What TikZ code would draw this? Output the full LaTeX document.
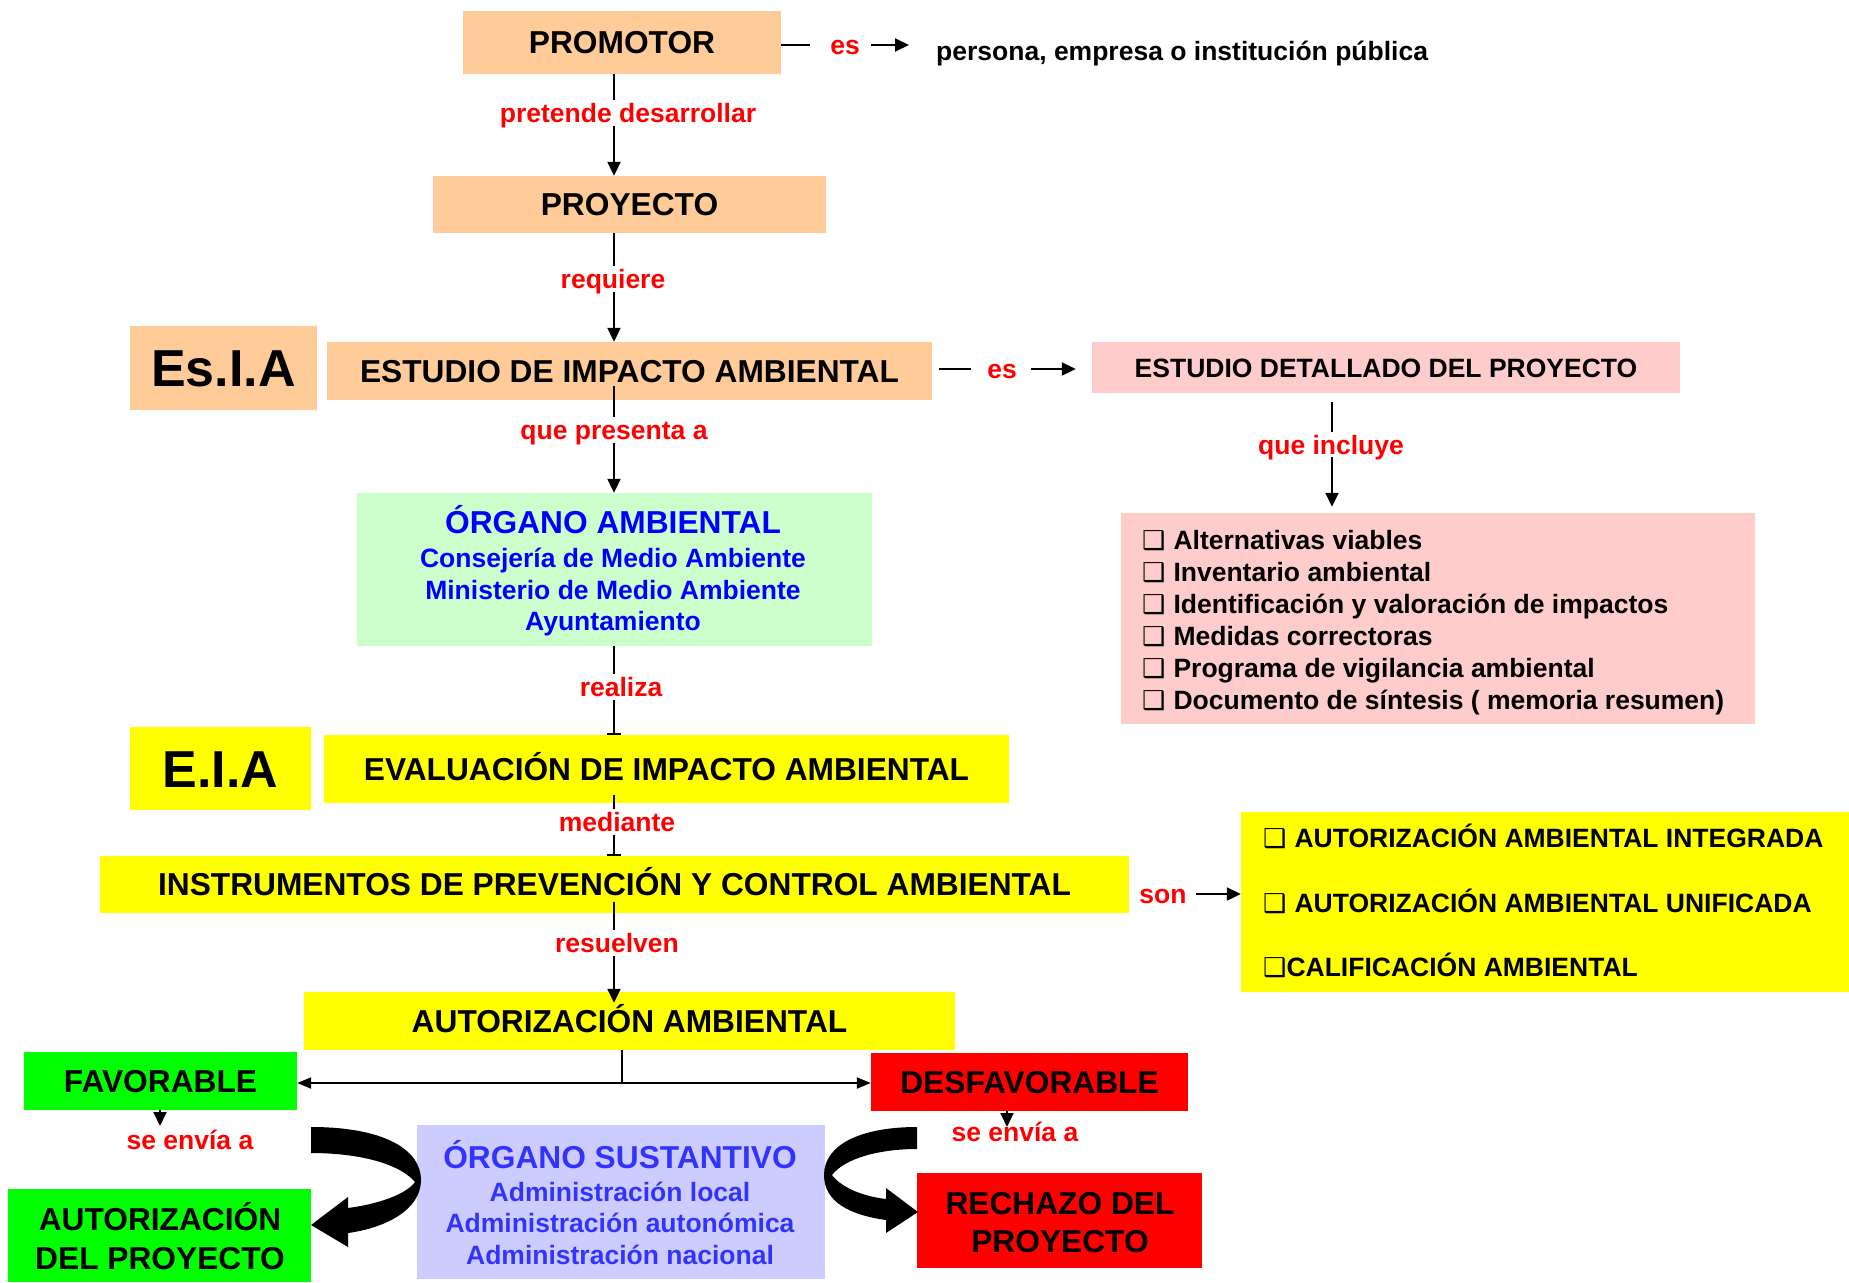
\documentclass[tikz,border=0pt]{standalone}
\usepackage{fontspec}
\setmainfont{Liberation Sans}
\newfontfamily\dejavu{DejaVu Sans}
\usetikzlibrary{arrows.meta}
\definecolor{orangebox}{HTML}{FFCC99}
\definecolor{pinkbox}{HTML}{FFCCCC}
\definecolor{mint}{HTML}{CCFFCC}
\definecolor{yel}{HTML}{FFFF00}
\definecolor{grn}{HTML}{00FF00}
\definecolor{rd}{HTML}{FF0000}
\definecolor{lav}{HTML}{CCCCFF}
\definecolor{blu}{HTML}{0000FF}
\definecolor{blutwo}{HTML}{3333FF}
\newcommand{\cbx}{{\dejavu\bfseries\fontsize{26}{26}\selectfont ❑}}
\begin{document}
\begin{tikzpicture}[x=1pt,y=-1pt,
  ftbig/.style={font=\fontsize{31.7}{36}\selectfont\bfseries},
  ftsmall/.style={font=\fontsize{26.5}{32}\selectfont\bfseries},
  fthuge/.style={font=\fontsize{52}{60}\selectfont\bfseries},
  bx/.style={inner sep=0pt, text height=22.7pt, text depth=0pt, align=center},
  lbl/.style={ftsmall, text=rd, inner xsep=3pt, inner ysep=3pt, text height=19pt, text depth=0pt},
  conn/.style={line width=2pt},
  arr/.style={conn, -{Triangle[length=14pt,width=13pt]}},
  tick/.style={conn, -{Bar[width=14pt]}},
  linetxt/.style={inner sep=0pt, anchor=base},
  itemtxt/.style={ftsmall, inner sep=0pt, anchor=base west},
]
\useasboundingbox (0,0) rectangle (1849,1282);
\fill[white] (0,0) rectangle (1849,1282);

% ---- top chain
\node[bx, ftbig, fill=orangebox, minimum width=318pt, minimum height=63pt] (promotor) at (622,42.5) {PROMOTOR};
\node[lbl] (es1) at (845,45) {es};
\node[ftsmall, anchor=base west, inner sep=0pt] (persona) at (936,60) {persona, empresa o institución pública};
\node[lbl] (l1) at (628,113) {pretende desarrollar};
\node[bx, ftbig, fill=orangebox, minimum width=393pt, minimum height=57pt] (proyecto) at (629.5,204.5) {PROYECTO};
\node[lbl] (l2) at (613,279) {requiere};
\node[bx, fthuge, fill=orangebox, minimum width=187pt, minimum height=84pt, text height=37pt] (esia) at (223.5,368) {Es.I.A};
\node[bx, ftbig, fill=orangebox, minimum width=605pt, minimum height=58pt] (estudio) at (629.5,371) {ESTUDIO DE IMPACTO AMBIENTAL};
\node[lbl] (es2) at (1002,369) {es};
\node[bx, ftsmall, fill=pinkbox, minimum width=588pt, minimum height=51pt, text height=19pt] (detallado) at (1386,367.5) {ESTUDIO DETALLADO DEL PROYECTO};
\node[lbl] (l3) at (1331,444.5) {que incluye};
\node[fill=pinkbox, inner sep=0pt, minimum width=634pt, minimum height=211pt] (pinklist) at (1438,618.5) {};
\node[itemtxt] (p1) at (1142,549.5) {\cbx\hspace{8pt}Alternativas viables};
\node[itemtxt] (p2) at (1142,581.5) {\cbx\hspace{8pt}Inventario ambiental};
\node[itemtxt] (p3) at (1142,613.5) {\cbx\hspace{8pt}Identificación y valoración de impactos};
\node[itemtxt] (p4) at (1142,645.5) {\cbx\hspace{8pt}Medidas correctoras};
\node[itemtxt] (p5) at (1142,677.5) {\cbx\hspace{8pt}Programa de vigilancia ambiental};
\node[itemtxt] (p6) at (1142,709.5) {\cbx\hspace{8pt}Documento de síntesis ( memoria resumen)};
\node[lbl] (l4) at (614,430) {que presenta a};
\node[fill=mint, inner sep=0pt, minimum width=515pt, minimum height=153pt] (organo) at (614.5,569.5) {};
\node[linetxt, ftbig, text=blu] (organoT) at (613,533.5) {ÓRGANO AMBIENTAL};
\node[linetxt, ftsmall, text=blu] (organoA) at (613,567.5) {Consejería de Medio Ambiente};
\node[linetxt, ftsmall, text=blu] (organoB) at (613,599.5) {Ministerio de Medio Ambiente};
\node[linetxt, ftsmall, text=blu] (organoC) at (613,630.5) {Ayuntamiento};
\node[lbl] (l5) at (621,687) {realiza};
\node[bx, fthuge, fill=yel, minimum width=181pt, minimum height=83pt, text height=37pt] (eia) at (220.5,768.5) {E.I.A};
\node[bx, ftbig, fill=yel, minimum width=685pt, minimum height=68pt] (evaluacion) at (666.5,769) {EVALUACIÓN DE IMPACTO AMBIENTAL};
\node[lbl] (l6) at (617,822) {mediante};
\node[bx, ftbig, fill=yel, minimum width=1029pt, minimum height=57pt] (instrumentos) at (614.5,884.5) {INSTRUMENTOS DE PREVENCIÓN Y CONTROL AMBIENTAL};
\node[lbl] (son) at (1163,894) {son};
\node[fill=yel, inner sep=0pt, minimum width=608pt, minimum height=180pt] (yellist) at (1545,902) {};
\node[itemtxt] (y1) at (1263,847.5) {\cbx\hspace{8pt}AUTORIZACIÓN AMBIENTAL INTEGRADA};
\node[itemtxt] (y2) at (1263,912) {\cbx\hspace{8pt}AUTORIZACIÓN AMBIENTAL UNIFICADA};
\node[itemtxt] (y3) at (1263,976.5) {\cbx CALIFICACIÓN AMBIENTAL};
\node[lbl] (l7) at (617,943) {resuelven};
\node[bx, ftbig, fill=yel, minimum width=651pt, minimum height=58pt] (autamb) at (629.5,1021) {AUTORIZACIÓN AMBIENTAL};
\node[bx, ftbig, fill=grn, minimum width=273pt, minimum height=58pt] (favorable) at (160.5,1081) {FAVORABLE};
\node[bx, ftbig, fill=rd, minimum width=317pt, minimum height=58pt] (desfav) at (1029.5,1082) {DESFAVORABLE};
\node[lbl] (envia1) at (190,1140) {se envía a};
\node[lbl] (envia2) at (1015,1132) {se envía a};
\node[fill=lav, inner sep=0pt, minimum width=408pt, minimum height=154pt] (sust) at (621,1202) {};
\node[linetxt, ftbig, text=blutwo] (sustT) at (620,1168.5) {ÓRGANO SUSTANTIVO};
\node[linetxt, ftsmall, text=blutwo] (sustA) at (620,1201.5) {Administración local};
\node[linetxt, ftsmall, text=blutwo] (sustB) at (620,1232.5) {Administración autonómica};
\node[linetxt, ftsmall, text=blutwo] (sustC) at (620,1264.5) {Administración nacional};
\node[fill=grn, inner sep=0pt, minimum width=303pt, minimum height=93pt] (autproy) at (159.5,1235.5) {};
\node[linetxt, ftbig] (autproyA) at (160,1230) {AUTORIZACIÓN};
\node[linetxt, ftbig] (autproyB) at (160,1269) {DEL PROYECTO};
\node[fill=rd, inner sep=0pt, minimum width=285pt, minimum height=95pt] (rechazo) at (1059.5,1220.5) {};
\node[linetxt, ftbig] (rechazoA) at (1060,1214) {RECHAZO DEL};
\node[linetxt, ftbig] (rechazoB) at (1060,1252.5) {PROYECTO};

% ---- connectors
\coordinate (spine) at (614,0);
\coordinate (inc) at (1332,0);
\coordinate (split) at (622,1083);
\coordinate (f2) at (160,1126);
\coordinate (d2) at (1007,1127);

\draw[conn] (promotor.south -| spine) -- (l1.north -| spine);
\draw[arr] (l1.south -| spine) -- (proyecto.north -| spine);
\draw[conn] (proyecto.south -| spine) -- (l2.north -| spine);
\draw[arr] (l2.south -| spine) -- (estudio.north -| spine);
\draw[conn, shorten <=-14pt] (estudio.south -| spine) -- (l4.north -| spine);
\draw[arr] (l4.south -| spine) -- (organo.north -| spine);
\draw[conn] (organo.south -| spine) -- (l5.north -| spine);
\draw[tick] (l5.south -| spine) -- (evaluacion.north -| spine);
\draw[conn, shorten <=-8pt] (evaluacion.south -| spine) -- (l6.north -| spine);
\draw[tick] (l6.south -| spine) -- (instrumentos.north -| spine);
\draw[conn, shorten <=-11pt] (instrumentos.south -| spine) -- (l7.north -| spine);
\draw[arr, shorten >=-11pt] (l7.south -| spine) -- (autamb.north -| spine);

\draw[conn, shorten >=17pt] (promotor.east |- es1) -- (es1.west);
\draw[arr, shorten <=8pt, shorten >=27pt] (es1.east) -- (persona.west |- es1);
\draw[conn, shorten <=7pt, shorten >=13pt] (estudio.east |- es2) -- (es2.west);
\draw[arr, shorten <=11pt, shorten >=16pt] (es2.east) -- (detallado.west |- es2);
\draw[conn, shorten <=9pt] (detallado.south -| inc) -- (l3.north -| inc);
\draw[arr, shorten >=6pt] (l3.south -| inc) -- (pinklist.north -| inc);
\draw[arr, shorten <=6pt] (son.east) -- (yellist.west |- son);

\draw[conn] (autamb.south -| split) -- (split);
\draw[conn, {Triangle[length=14pt,width=11pt]}-{Triangle[length=14pt,width=11pt]}] (favorable.east |- split) -- (desfav.west |- split);
\draw[arr] (favorable.south -| f2) -- (f2);
\draw[arr] (desfav.south -| d2) -- (d2);

% ---- curved block arrows
\fill[black] (311,1127) .. controls (385,1127) and (421,1150) .. (421,1180)
  .. controls (421,1210) and (385,1228) .. (348,1233)
  -- (348,1247) -- (311,1225) -- (348,1197) -- (348,1208)
  .. controls (385,1203) and (408,1192) .. (415,1182)
  .. controls (400,1164) and (360,1153) .. (311,1153) -- cycle;
\fill[black] (917,1127) .. controls (860,1127) and (824,1145) .. (824,1175)
  .. controls (824,1202) and (850,1215) .. (886,1220)
  -- (886,1233) -- (918,1212) -- (886,1188) -- (886,1199)
  .. controls (860,1196) and (840,1186) .. (832,1175)
  .. controls (845,1158) and (880,1149) .. (917,1149) -- cycle;
\end{tikzpicture}
\end{document}
